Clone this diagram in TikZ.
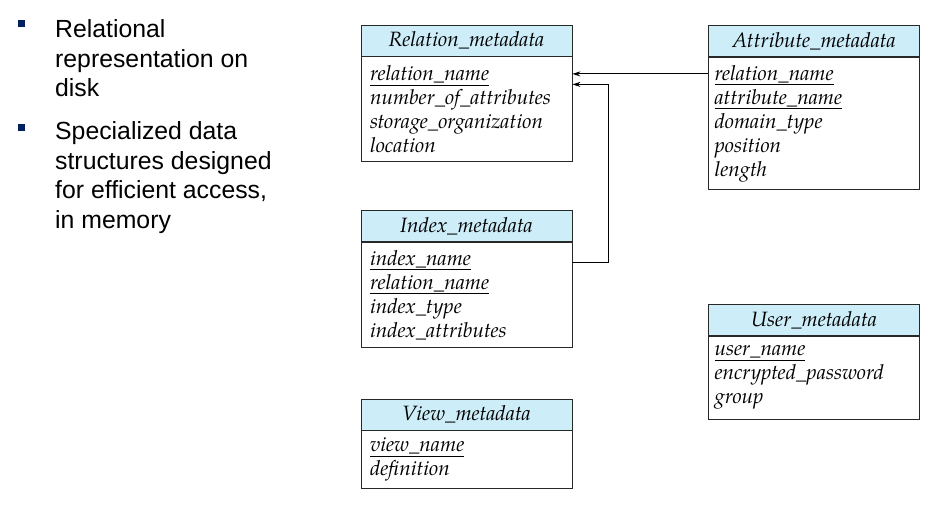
\documentclass[tikz,border=0pt]{standalone}
\usepackage{fontspec}
\newfontfamily\bulletfont{Liberation Sans}
\newfontfamily\boxfont{TeX Gyre Pagella}
\usetikzlibrary{arrows.meta,positioning}
\definecolor{headcol}{RGB}{205,237,249}
\definecolor{bulcol}{RGB}{0,32,96}
\definecolor{linecol}{RGB}{40,40,40}
\tikzset{
  headbox/.style={draw=linecol,line width=0.8pt,fill=headcol,minimum width=211pt,minimum height=31pt,inner sep=0pt,font=\boxfont\fontsize{20.7}{24}\selectfont\itshape},
  bodybox/.style={draw=linecol,line width=0.8pt,minimum width=211pt,text width=193pt,inner xsep=9pt,inner ysep=0pt,align=left,font=\boxfont\fontsize{20.7}{24}\selectfont\itshape,anchor=north},
  bullettext/.style={anchor=north west,inner sep=0pt,align=left,font=\bulletfont\fontsize{24.8}{29.6}\selectfont},
  bulletsq/.style={fill=bulcol,minimum size=7pt,inner sep=0pt},
  arr/.style={draw=black,line width=0.8pt,-{Stealth[length=8pt,width=5pt]}}
}
\begin{document}
\begin{tikzpicture}[x=1pt,y=-1pt]
\useasboundingbox (0,0) rectangle (943,508);
% left bullets
\node[bulletsq] (b1) at (21,24) {};
\node[bullettext] (t1) at (55,19.5) {Relational\\representation on\\disk};
\node[bulletsq] (b2) at (21,128) {};
\node[bullettext] (t2) at (55,121.5) {Specialized data\\structures designed\\for efficient access,\\in memory};
% Relation_metadata
\node[headbox] (rh) at (466.5,40.5) {Relation\_metadata};
\node[bodybox,minimum height=105pt] (rb) at (rh.south) {\underline{relation\_name}\\number\_of\_attributes\\storage\_organization\\location};
% Attribute_metadata
\node[headbox] (ah) at (814,41) {Attribute\_metadata};
\node[bodybox,minimum height=132pt,inner xsep=6pt,text width=199pt] (ab) at (ah.south) {\underline{relation\_name}\\\underline{attribute\_name}\\domain\_type\\position\\length};
% Index_metadata
\node[headbox] (ih) at (466.5,226) {Index\_metadata};
\node[bodybox,minimum height=105pt] (ib) at (ih.south) {\underline{index\_name}\\\underline{relation\_name}\\index\_type\\index\_attributes};
% View_metadata
\node[headbox] (vh) at (466.5,414.5) {View\_metadata};
\node[bodybox,minimum height=58pt] (vb) at (vh.south) {\underline{view\_name}\\definition};
% User_metadata
\node[headbox] (uh) at (814,320) {User\_metadata};
\node[bodybox,minimum height=83pt,inner xsep=6pt,text width=199pt] (ub) at (uh.south) {\underline{user\_name}\\encrypted\_password\\group};
% connectors
\coordinate (a1) at ([yshift=-17pt]ab.north west);
\coordinate (a2) at ([yshift=-20pt]ib.north east);
\coordinate (a3) at ([yshift=-28pt]rb.north east);
\draw[arr] (a1) -- (rb.east |- a1);
\draw[arr] (a2) -- ++(36,0) |- (a3);
\end{tikzpicture}
\end{document}
